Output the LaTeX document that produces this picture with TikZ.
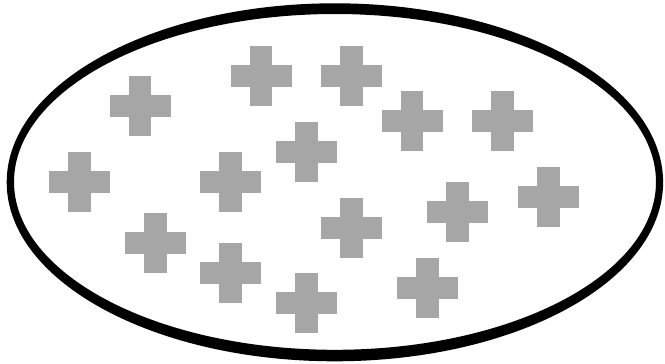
\documentclass[tikz,border=0pt]{standalone}
\usepackage{tikz}
\definecolor{crossgray}{RGB}{166,166,166}

\begin{document}
\begin{tikzpicture}[x=0.75pt, y=-0.75pt]
        % Page frame
        \useasboundingbox (0,0) rectangle (665,364);

        % Thick outline of the set (ring between two ellipses)
        \fill[black, even odd rule]
            (334.9,182.3) ellipse [x radius=328.2, y radius=179]
            (335,181.9) ellipse [x radius=321, y radius=167.9];

        % Gray plus signs
        \foreach \cx/\cy in {140/106.3, 261/76.2, 351.6/76, 412/121.3, 502.6/121.3,
                             306.4/151.8, 79.7/182.2, 230.7/182.2, 548.2/197,
                             457.4/212.3, 351.8/227.5, 155.4/242.7, 230.7/272.8,
                             306.4/303.2, 427.3/287.8} {
            \fill[crossgray] (\cx-30.5,\cy-11) rectangle (\cx+30.5,\cy+11);
            \fill[crossgray] (\cx-11.35,\cy-30) rectangle (\cx+11.35,\cy+30);
        }
    \end{tikzpicture}
\end{document}
